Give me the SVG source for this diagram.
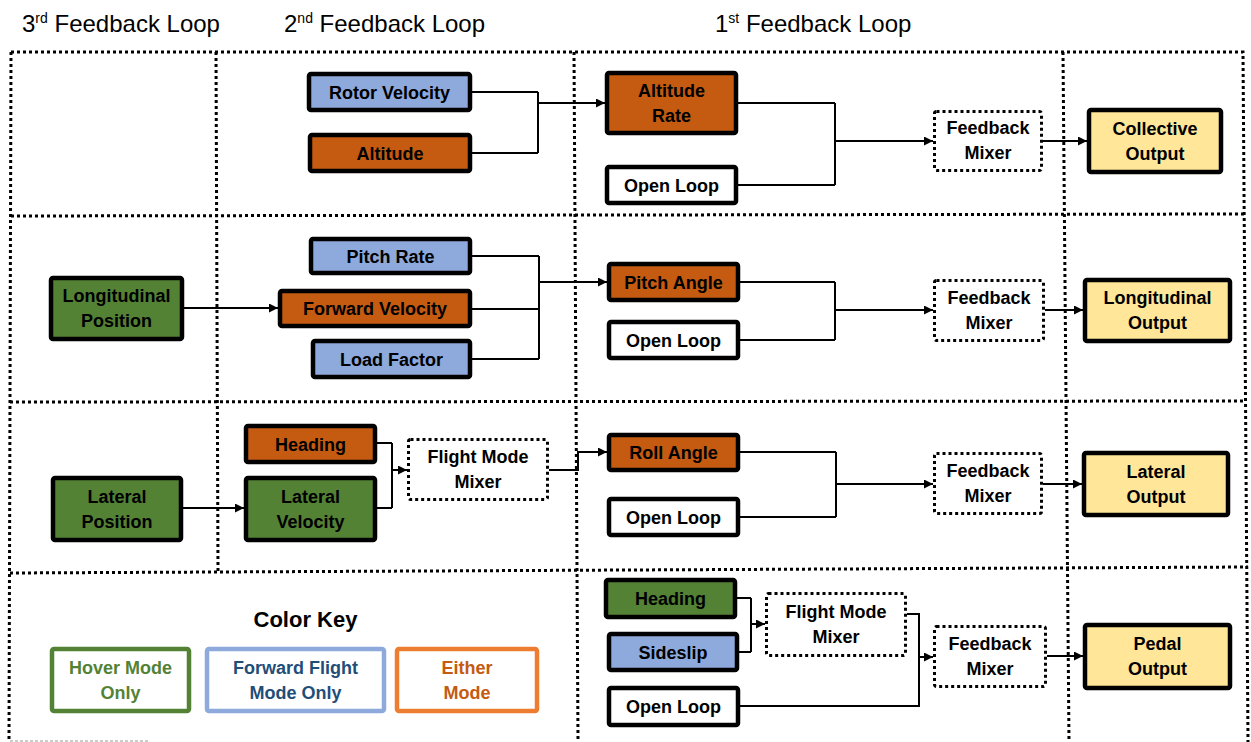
<svg xmlns="http://www.w3.org/2000/svg" width="1251" height="742" viewBox="0 0 1251 742">
<defs>
<marker id="arr" viewBox="0 0 10 10" refX="10" refY="5" markerWidth="9" markerHeight="9" markerUnits="userSpaceOnUse" orient="auto"><path d="M0,0 L10,5 L0,10 z" fill="#000"/></marker>
<style>
.grid{stroke:#000;stroke-width:3;stroke-dasharray:3 3;fill:none}
.hdr{font-family:"Liberation Sans",Arial,sans-serif;font-size:24px;fill:#000}
.sup{font-size:14px}
.n rect{stroke:#000;stroke-width:4.5}
.n text,.m text,.k text{font-family:"Liberation Sans",Arial,sans-serif;font-weight:bold;font-size:18px;text-anchor:middle;fill:#000}
.m rect{fill:#fff;stroke:#000;stroke-width:3;stroke-dasharray:3 3}
.blue{fill:#8EA9DB}.orange{fill:#C55A11}.green{fill:#548235}.white{fill:#fff}.yellow{fill:#FFE699}
.c path{stroke:#000;stroke-width:2;fill:none}
.c .a{marker-end:url(#arr)}
.k rect{fill:#fff;stroke-width:4.5}
</style>
</defs>
<rect x="0" y="0" width="1251" height="742" fill="#fff"/>
<g id="headers">
<text class="hdr" x="22" y="32">3<tspan class="sup" dy="-9">rd</tspan><tspan dy="9"> Feedback Loop</tspan></text>
<text class="hdr" x="284" y="32">2<tspan class="sup" dy="-9">nd</tspan><tspan dy="9"> Feedback Loop</tspan></text>
<text class="hdr" x="715" y="32">1<tspan class="sup" dy="-9">st</tspan><tspan dy="9"> Feedback Loop</tspan></text>
</g>
<g id="grid">
<path class="grid" d="M11,52 H1243 L1248,742"/>
<path class="grid" d="M11,52 L9,742"/>
<path class="grid" d="M11,216 L1244,214"/>
<path class="grid" d="M10,402 L1246,401"/>
<path class="grid" d="M10,573 L1248,567"/>
<path class="grid" d="M216,52 L218,573"/>
<path class="grid" d="M574,52 L578,742"/>
<path class="grid" d="M1063,52 L1069,742"/>
<path d="M10,741 H150" stroke="#999" stroke-width="1" stroke-dasharray="3 2"/>
</g>
<g id="connectors" class="c">
<path d="M472,92 H538 M472,153 H538 M538,92 V153"/>
<path class="a" d="M538,103 H605"/>
<path d="M738,103 H835 M738,185 H835 M835,103 V185"/>
<path class="a" d="M835,141 H933"/>
<path class="a" d="M1043,141 H1087"/>
<path class="a" d="M184,308 H278"/>
<path d="M472,256 H539 M472,309 H539 M472,359 H539 M539,256 V359"/>
<path class="a" d="M539,282 H607"/>
<path d="M740,282 H835 M740,340 H835 M835,282 V340"/>
<path class="a" d="M835,310 H933"/>
<path class="a" d="M1045,310 H1083"/>
<path class="a" d="M183,508 H244"/>
<path d="M377,443 H392 M377,508 H392 M392,443 V508"/>
<path class="a" d="M392,470 H407"/>
<path class="a" d="M549,470 H578 V452 H607"/>
<path d="M740,452 H836 M740,517 H836 M836,452 V517"/>
<path class="a" d="M836,484 H933"/>
<path class="a" d="M1043,484 H1082"/>
<path d="M737,598 H751 M739,652 H751 M751,598 V652"/>
<path class="a" d="M751,624 H765"/>
<path d="M907,614 H919 V657 M740,706 H919 V657"/>
<path class="a" d="M919,657 H933"/>
<path class="a" d="M1047,656 H1083"/>
</g>
<g id="rotor_velocity" class="n"><rect class="blue" x="309" y="74" width="161" height="36" rx="2"/><text x="389.5" y="98.5">Rotor Velocity</text></g>
<g id="altitude" class="n"><rect class="orange" x="310" y="135" width="160" height="36" rx="2"/><text x="390" y="159.5">Altitude</text></g>
<g id="altitude_rate" class="n"><rect class="orange" x="607" y="73" width="129" height="60" rx="2"/><text x="671.5" y="96.5">Altitude</text><text x="671.5" y="121.5">Rate</text></g>
<g id="open_loop_1" class="n"><rect class="white" x="607" y="167" width="129" height="36" rx="2"/><text x="671.5" y="191.5">Open Loop</text></g>
<g id="feedback_mixer_1" class="m"><rect x="934.5" y="111.5" width="107" height="59" rx="2"/><text x="988" y="134">Feedback</text><text x="988" y="159">Mixer</text></g>
<g id="collective_output" class="n"><rect class="yellow" x="1089" y="110" width="132" height="62" rx="2"/><text x="1155" y="134.5">Collective</text><text x="1155" y="159.5">Output</text></g>
<g id="pitch_rate" class="n"><rect class="blue" x="311" y="239" width="159" height="34" rx="2"/><text x="390.5" y="262.5">Pitch Rate</text></g>
<g id="forward_velocity" class="n"><rect class="orange" x="280" y="291" width="190" height="35" rx="2"/><text x="375" y="315">Forward Velocity</text></g>
<g id="load_factor" class="n"><rect class="blue" x="313" y="341" width="157" height="36" rx="2"/><text x="391.5" y="365.5">Load Factor</text></g>
<g id="longitudinal_position" class="n"><rect class="green" x="51" y="278" width="131" height="61" rx="2"/><text x="116.5" y="302">Longitudinal</text><text x="116.5" y="327">Position</text></g>
<g id="pitch_angle" class="n"><rect class="orange" x="609" y="264" width="129" height="36" rx="2"/><text x="673.5" y="288.5">Pitch Angle</text></g>
<g id="open_loop_2" class="n"><rect class="white" x="609" y="322" width="129" height="36" rx="2"/><text x="673.5" y="346.5">Open Loop</text></g>
<g id="feedback_mixer_2" class="m"><rect x="934.5" y="280.5" width="109" height="60" rx="2"/><text x="989" y="304">Feedback</text><text x="989" y="329">Mixer</text></g>
<g id="longitudinal_output" class="n"><rect class="yellow" x="1085" y="280" width="145" height="61" rx="2"/><text x="1157.5" y="304">Longitudinal</text><text x="1157.5" y="329">Output</text></g>
<g id="heading_3" class="n"><rect class="orange" x="246" y="426" width="129" height="36" rx="2"/><text x="310.5" y="450.5">Heading</text></g>
<g id="lateral_velocity" class="n"><rect class="green" x="246" y="478" width="129" height="62" rx="2"/><text x="310.5" y="502.5">Lateral</text><text x="310.5" y="527.5">Velocity</text></g>
<g id="lateral_position" class="n"><rect class="green" x="53" y="478" width="128" height="62" rx="2"/><text x="117" y="502.5">Lateral</text><text x="117" y="527.5">Position</text></g>
<g id="flight_mode_mixer_3" class="m"><rect x="408.5" y="439.5" width="139" height="60" rx="2"/><text x="478" y="463">Flight Mode</text><text x="478" y="488">Mixer</text></g>
<g id="roll_angle" class="n"><rect class="orange" x="609" y="435" width="129" height="35" rx="2"/><text x="673.5" y="459">Roll Angle</text></g>
<g id="open_loop_3" class="n"><rect class="white" x="609" y="499" width="129" height="36" rx="2"/><text x="673.5" y="523.5">Open Loop</text></g>
<g id="feedback_mixer_3" class="m"><rect x="934.5" y="453.5" width="107" height="60" rx="2"/><text x="988" y="477">Feedback</text><text x="988" y="502">Mixer</text></g>
<g id="lateral_output" class="n"><rect class="yellow" x="1084" y="453" width="144" height="62" rx="2"/><text x="1156" y="477.5">Lateral</text><text x="1156" y="502.5">Output</text></g>
<g id="heading_4" class="n"><rect class="green" x="606" y="580" width="129" height="37" rx="2"/><text x="670.5" y="605">Heading</text></g>
<g id="sideslip" class="n"><rect class="blue" x="609" y="634" width="128" height="36" rx="2"/><text x="673" y="658.5">Sideslip</text></g>
<g id="open_loop_4" class="n"><rect class="white" x="609" y="688" width="129" height="37" rx="2"/><text x="673.5" y="713">Open Loop</text></g>
<g id="flight_mode_mixer_4" class="m"><rect x="766.5" y="593.5" width="139" height="62" rx="2"/><text x="836" y="618">Flight Mode</text><text x="836" y="643">Mixer</text></g>
<g id="feedback_mixer_4" class="m"><rect x="934.5" y="626.5" width="111" height="60" rx="2"/><text x="990" y="650">Feedback</text><text x="990" y="675">Mixer</text></g>
<g id="pedal_output" class="n"><rect class="yellow" x="1085" y="625" width="145" height="63" rx="2"/><text x="1157.5" y="650">Pedal</text><text x="1157.5" y="675">Output</text></g>
<g id="color_key" class="k">
<text x="305.5" y="627" style="font-size:22px">Color Key</text>
<rect x="52" y="649" width="137" height="62" rx="2" stroke="#548235"/>
<text x="120.5" y="674" style="fill:#548235">Hover Mode</text><text x="120.5" y="699" style="fill:#548235">Only</text>
<rect x="207" y="649" width="177" height="62" rx="2" stroke="#8EA9DB"/>
<text x="295.5" y="674" style="fill:#1F4E79">Forward Flight</text><text x="295.5" y="699" style="fill:#1F4E79">Mode Only</text>
<rect x="397" y="649" width="140" height="62" rx="2" stroke="#ED7D31"/>
<text x="467" y="674" style="fill:#C55A11">Either</text><text x="467" y="699" style="fill:#C55A11">Mode</text>
</g>
</svg>
